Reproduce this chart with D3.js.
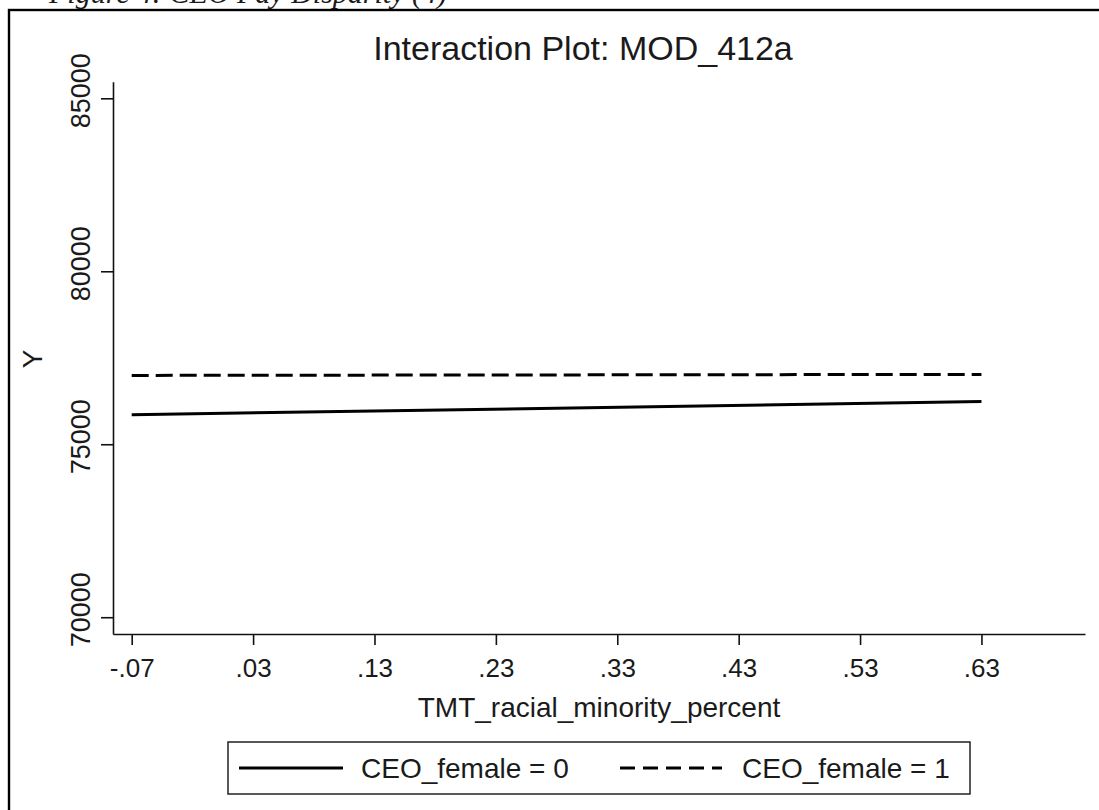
<!DOCTYPE html>
<html>
<head>
<meta charset="utf-8">
<script src="https://cdn.jsdelivr.net/npm/d3@7"></script>
<style>
  html, body { margin: 0; padding: 0; background: #fff; }
  svg { display: block; }
  text { font-family: "Liberation Sans", Arial, sans-serif; fill: #1a1a1a; }
</style>
</head>
<body>
<svg id="chart" width="1099" height="810"></svg>
<script>
// Predicted Y at the low and high values of TMT_racial_minority_percent
const xValues = [-0.07, 0.63];
const ceoFemale0 = [75853, 76233];
const ceoFemale1 = [76990, 77019];

const xTicks = [-0.07, 0.03, 0.13, 0.23, 0.33, 0.43, 0.53, 0.63];
const xTickLabels = ["-.07", ".03", ".13", ".23", ".33", ".43", ".53", ".63"];
const yTicks = [70000, 75000, 80000, 85000];
const legendLabels = ["CEO_female = 0", "CEO_female = 1"];

const svg = d3.select("#chart");

// caption above the figure, mostly cut off at the page top
svg.append("text")
  .attr("x", 447).attr("y", 3)
  .attr("text-anchor", "end")
  .style("font-family", "'Liberation Serif', 'Times New Roman', serif")
  .style("font-style", "italic")
  .style("font-size", "30px")
  .text("Figure 4: CEO Pay Disparity (4)");

// outer frame of the graph
svg.append("rect")
  .attr("x", 9).attr("y", 10)
  .attr("width", 1100).attr("height", 810)
  .attr("fill", "none").attr("stroke", "#000").attr("stroke-width", 2.4);

const x = d3.scaleLinear().domain([-0.0854, 0.7153]).range([113, 1085]);
const y = d3.scaleLinear().domain([69515, 85480]).range([634, 81.7]);

// title
svg.append("text")
  .attr("x", 583).attr("y", 60)
  .attr("text-anchor", "middle")
  .style("font-size", "34px")
  .text("Interaction Plot: MOD_412a");

// x axis
const xAxis = d3.axisBottom(x)
  .tickValues(xTicks)
  .tickFormat((d, i) => xTickLabels[i])
  .tickSize(11)
  .tickPadding(14)
  .tickSizeOuter(0);
const gx = svg.append("g").attr("transform", "translate(0,634)").call(xAxis);
gx.select(".domain").attr("stroke", "#111").attr("stroke-width", 1.6);
gx.selectAll(".tick line").attr("stroke", "#111").attr("stroke-width", 1.6);
gx.selectAll(".tick text")
  .style("font-family", "'Liberation Sans', Arial, sans-serif")
  .style("font-size", "26px").attr("fill", "#1a1a1a");

// y axis, labels rotated and set slightly above their ticks
const yAxis = d3.axisLeft(y)
  .tickValues(yTicks)
  .tickFormat(d3.format("d"))
  .tickSize(12)
  .tickSizeOuter(0);
const gy = svg.append("g").attr("transform", "translate(113,0)").call(yAxis);
gy.select(".domain").attr("stroke", "#111").attr("stroke-width", 1.6);
gy.selectAll(".tick line").attr("stroke", "#111").attr("stroke-width", 1.6);
gy.selectAll(".tick text")
  .attr("x", null).attr("dy", null).attr("y", 0)
  .attr("transform", "translate(-23,-8) rotate(-90)")
  .attr("text-anchor", "middle")
  .style("font-family", "'Liberation Sans', Arial, sans-serif")
  .style("font-size", "27px").attr("fill", "#1a1a1a");

// axis titles
svg.append("text")
  .attr("transform", "translate(42,359) rotate(-90)")
  .attr("text-anchor", "middle")
  .style("font-size", "28px")
  .text("Y");
svg.append("text")
  .attr("x", 599).attr("y", 717)
  .attr("text-anchor", "middle")
  .style("font-size", "28px")
  .text("TMT_racial_minority_percent");

// prediction lines
const line = d3.line().x(d => x(d[0])).y(d => y(d[1]));
const series = [
  { values: ceoFemale0, dash: null },
  { values: ceoFemale1, dash: "17,7" }
];
series.forEach(s => {
  svg.append("path")
    .datum(xValues.map((v, i) => [v, s.values[i]]))
    .attr("d", line)
    .attr("fill", "none")
    .attr("stroke", "#000")
    .attr("stroke-width", 3)
    .attr("stroke-dasharray", s.dash);
});

// legend
const lg = svg.append("g");
lg.append("rect")
  .attr("x", 228).attr("y", 742)
  .attr("width", 742).attr("height", 52)
  .attr("fill", "#fff").attr("stroke", "#222").attr("stroke-width", 1.5);
const legendItems = [
  { x0: 239, x1: 343, tx: 361, dash: null },
  { x0: 620, x1: 722, tx: 742, dash: "15,8" }
];
legendItems.forEach((it, i) => {
  lg.append("line")
    .attr("x1", it.x0).attr("x2", it.x1)
    .attr("y1", 768).attr("y2", 768)
    .attr("stroke", "#000").attr("stroke-width", 3)
    .attr("stroke-dasharray", it.dash);
  lg.append("text")
    .attr("x", it.tx).attr("y", 778)
    .style("font-size", "28px")
    .text(legendLabels[i]);
});
</script>
</body>
</html>
